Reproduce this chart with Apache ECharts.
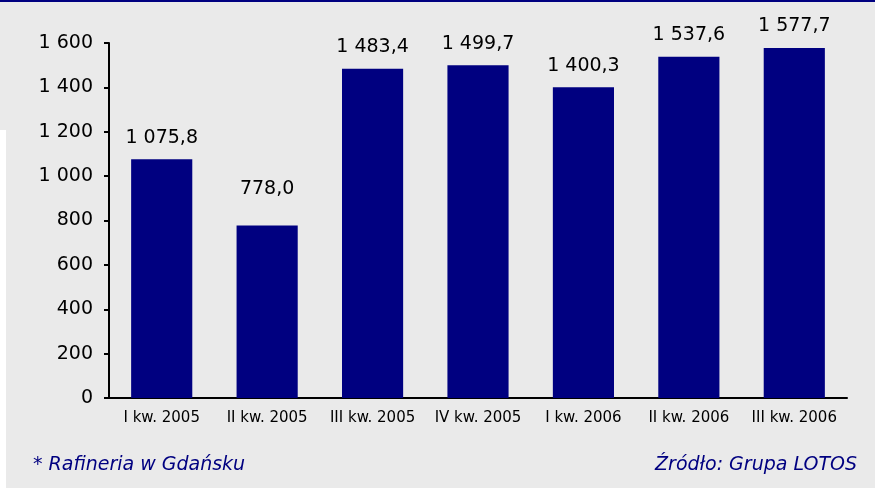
<!DOCTYPE html>
<html>
<head>
<meta charset="utf-8">
<script src="https://cdn.jsdelivr.net/npm/echarts@6/dist/echarts.min.js"></script>
<style>
  html, body { margin: 0; padding: 0; background: #eaeaea; }
  #chart { width: 875px; height: 488px; }
</style>
</head>
<body>
<div id="chart"></div>
<script>
const categories = ['I kw. 2005', 'II kw. 2005', 'III kw. 2005', 'IV kw. 2005', 'I kw. 2006', 'II kw. 2006', 'III kw. 2006']
const values = [1075.8, 778.0, 1483.4, 1499.7, 1400.3, 1537.6, 1577.7]
const footnote = '* Rafineria w Gdańsku'
const source = 'Źródło: Grupa LOTOS'

const navy = '#000080'

// 1600 -> "1 600", 1075.8 -> "1 075,8"
function plNum(v, dec) {
  const s = v.toFixed(dec).split('.')
  const int = s[0].replace(/\B(?=(\d{3})+(?!\d))/g, ' ')
  return s.length > 1 ? int + ',' + s[1] : int
}

// the "778,0" label sits higher above its bar in the original
const seriesData = values.map((v, i) => i === 1 ? { value: v, label: { distance: 27 } } : v)

const chart = echarts.init(document.getElementById('chart'))
chart.setOption({
  backgroundColor: '#eaeaea',
  animation: false,
  textStyle: { fontFamily: 'DejaVu Sans' },
  graphic: [
    { type: 'rect', left: 0, top: 0, shape: { width: 875, height: 2 }, style: { fill: navy } },
    { type: 'rect', left: 0, top: 130, shape: { width: 6, height: 358 }, style: { fill: '#fff' } },
    {
      type: 'text', left: 33, top: 456,
      style: { text: footnote, fill: navy, font: 'italic 19px "DejaVu Sans"' }
    },
    {
      type: 'text', right: 18, top: 456,
      style: { text: source, fill: navy, font: 'italic 19px "DejaVu Sans"' }
    }
  ],
  grid: { left: 109, right: 28, top: 43, bottom: 90 },
  xAxis: {
    type: 'category',
    data: categories,
    axisLine: { lineStyle: { color: '#000', width: 2 } },
    axisTick: { length: 5, lineStyle: { color: '#000', width: 2 } },
    axisLabel: { color: '#000', fontSize: 15, margin: 13, interval: 0, hideOverlap: false }
  },
  yAxis: {
    type: 'value',
    min: 0,
    max: 1600,
    interval: 200,
    splitLine: { show: false },
    axisLine: { show: true, lineStyle: { color: '#000', width: 2 } },
    axisTick: { show: true, length: 5, lineStyle: { color: '#000', width: 2 } },
    axisLabel: { color: '#000', fontSize: 19, margin: 16, formatter: v => plNum(v, 0) }
  },
  series: [{
    type: 'bar',
    data: seriesData,
    barWidth: '58%',
    itemStyle: { color: navy },
    label: {
      show: true,
      position: 'top',
      distance: 12,
      color: '#000',
      fontSize: 19,
      formatter: p => plNum(p.value, 1)
    }
  }]
})
</script>
</body>
</html>
